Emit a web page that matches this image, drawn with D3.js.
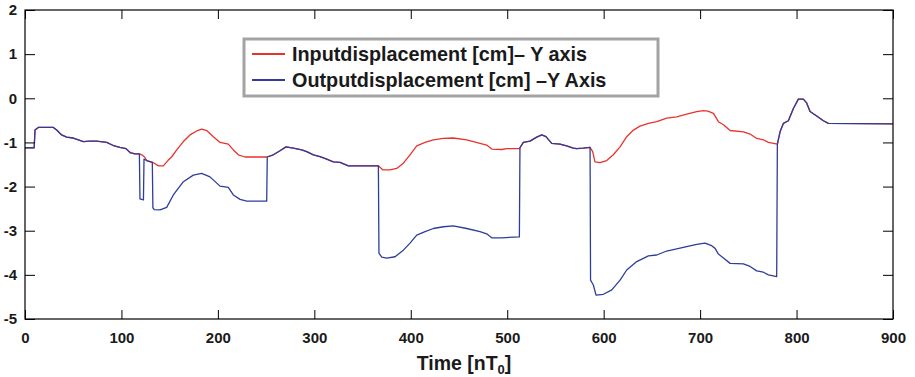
<!DOCTYPE html>
<html>
<head>
<meta charset="utf-8">
<script src="https://cdn.jsdelivr.net/npm/d3@7"></script>
<style>
  html, body { margin: 0; padding: 0; background: #fff; }
  svg { display: block; font-family: "Liberation Sans", Arial, sans-serif; }
</style>
</head>
<body>
<div id="outlet"></div>
<script>
// time samples [nT0] and displacement [cm]
const inputTime = [0, 9.5, 10.4, 13.8, 29.4, 32.8, 38, 43.2, 50, 55.3, 60.5, 67.4, 74.3, 84.7, 91.6, 98.5,
  104.7, 108.9, 114, 118.6, 121, 124, 126.2, 132.4, 138.3, 143.4, 148.6, 152, 157.3, 164.2, 171.1, 178,
  183.2, 188.4, 195.3, 202.2, 210.8, 216, 221.2, 228.1, 250.6, 257.5, 264.4, 270.7, 278.2, 286.9, 292.1,
  299, 305.9, 312.8, 319.7, 326.6, 335.3, 366.4, 370.9, 378.5, 385.4, 392.3, 399.2, 406.2, 414.8, 423.4,
  433.8, 444.1, 458, 471.8, 478.7, 483.9, 494.3, 499.5, 512.6, 516.7, 523.6, 530.6, 535.8, 540.2, 546.1,
  554.7, 561.6, 568.5, 572, 578.9, 585.9, 588.6, 591, 596.2, 603.1, 610, 617, 623.9, 630.8, 637.7, 646.4,
  655, 665.4, 675.8, 686.1, 696.5, 703.4, 708, 713.8, 719, 724.2, 731.1, 744.9, 751.8, 758.7, 765.6,
  770.8, 780.1, 782.9, 786.3, 791.5, 796.7, 801.9, 807.1, 810.6, 814, 820.9, 827.8, 833, 900];
const inputDisp = [-1.12, -1.12, -0.72, -0.66, -0.66, -0.72, -0.83, -0.88, -0.90, -0.94, -0.98, -0.97, -0.97, -1.00, -1.07, -1.11,
  -1.14, -1.23, -1.26, -1.26, -1.28, -1.33, -1.41, -1.45, -1.53, -1.53, -1.40, -1.33, -1.17, -0.98, -0.83, -0.74,
  -0.70, -0.73, -0.87, -1.00, -1.04, -1.17, -1.28, -1.33, -1.33, -1.28, -1.19, -1.10, -1.13, -1.17, -1.21,
  -1.28, -1.32, -1.38, -1.44, -1.45, -1.53, -1.53, -1.62, -1.62, -1.59, -1.47, -1.28, -1.08, -1.00, -0.94,
  -0.91, -0.90, -0.94, -1.02, -1.06, -1.15, -1.16, -1.14, -1.14, -1.00, -0.97, -0.88, -0.83, -0.87, -1.02,
  -1.04, -1.08, -1.13, -1.14, -1.13, -1.11, -1.21, -1.44, -1.46, -1.41, -1.28, -1.10, -0.87, -0.72, -0.63, -0.57,
  -0.53, -0.45, -0.42, -0.36, -0.30, -0.28, -0.29, -0.34, -0.53, -0.60, -0.73, -0.76, -0.81, -0.91, -0.94,
  -1.00, -1.04, -0.76, -0.57, -0.51, -0.23, -0.02, -0.02, -0.11, -0.30, -0.40, -0.51, -0.57, -0.58];

const outputTime = [0, 9.5, 10.4, 13.8, 29.4, 32.8, 38, 43.2, 50, 55.3, 60.5, 67.4, 74.3, 84.7, 91.6, 98.5,
  104.7, 108.9, 114, 118.6, 119.2, 122.8, 123.4, 126.2, 132, 132.6, 134, 140, 146.9, 153.8, 164.2, 174.5,
  183.2, 191.8, 202.2, 210.8, 216, 223, 229.9, 250.6, 251.2, 257.5, 264.4, 270.7, 278.2, 286.9, 292.1,
  299, 305.9, 312.8, 319.7, 326.6, 335.3, 366.4, 367, 369.9, 375, 383.7, 392.3, 399.2, 406.2, 414.8, 423.4,
  433.8, 444.1, 458, 471.8, 478.7, 483.9, 494.3, 512.6, 513.2, 516.7, 523.6, 530.6, 535.8, 540.2, 546.1,
  554.7, 561.6, 568.5, 572, 578.9, 585.9, 586.4, 589.3, 592.1, 599.7, 608.4, 617, 623.9, 634.3, 646.4,
  655, 665.4, 682.6, 696.5, 705.1, 712, 715.5, 719, 724.2, 731.1, 744.9, 751.8, 758.7, 765.6, 770.8,
  779.4, 780.1, 782.9, 786.3, 791.5, 796.7, 801.9, 807.1, 810.6, 814, 820.9, 827.8, 833, 900];
const outputDisp = [-1.12, -1.12, -0.72, -0.66, -0.66, -0.72, -0.83, -0.88, -0.90, -0.94, -0.98, -0.97, -0.97, -1.00, -1.07, -1.11,
  -1.14, -1.23, -1.26, -1.26, -2.28, -2.30, -1.38, -1.41, -1.45, -2.48, -2.52, -2.53, -2.47, -2.19, -1.89, -1.74,
  -1.70, -1.78, -1.99, -2.02, -2.19, -2.29, -2.33, -2.33, -1.33, -1.28, -1.19, -1.10, -1.13, -1.17, -1.21,
  -1.28, -1.32, -1.38, -1.44, -1.45, -1.53, -1.53, -3.51, -3.60, -3.62, -3.59, -3.44, -3.28, -3.10, -3.02, -2.95,
  -2.91, -2.89, -2.95, -3.02, -3.07, -3.16, -3.16, -3.14, -1.12, -1.00, -0.97, -0.88, -0.83, -0.87, -1.02,
  -1.04, -1.08, -1.13, -1.14, -1.13, -1.11, -4.12, -4.23, -4.46, -4.44, -4.34, -4.12, -3.89, -3.70, -3.57,
  -3.55, -3.46, -3.38, -3.31, -3.28, -3.34, -3.40, -3.53, -3.62, -3.74, -3.75, -3.81, -3.91, -3.94, -4.00,
  -4.04, -1.04, -0.76, -0.57, -0.51, -0.23, -0.02, -0.02, -0.11, -0.30, -0.40, -0.51, -0.57, -0.58];

const xTicks = [0, 100, 200, 300, 400, 500, 600, 700, 800, 900];
const yTicks = [-5, -4, -3, -2, -1, 0, 1, 2];
const seriesNames = ["Inputdisplacement [cm]\u2013 Y axis", "Outputdisplacement [cm] \u2013Y Axis"];
const seriesColors = ["#e8332c", "#2e3d9b"];

const width = 915, height = 377;
const marginLeft = 25, marginRight = 22, marginTop = 10, marginBottom = 58;

const x = d3.scaleLinear().domain([0, 900]).range([marginLeft, width - marginRight]);
const y = d3.scaleLinear().domain([-5, 2]).range([height - marginBottom, marginTop]);

const svg = d3.select("#outlet").append("svg")
  .attr("width", width)
  .attr("height", height)
  .attr("viewBox", [0, 0, width, height]);

// lines
const line = d3.line().x(d => x(d[0])).y(d => y(d[1]));
const series = [
  d3.zip(inputTime, inputDisp),
  d3.zip(outputTime, outputDisp)
];
svg.append("g")
  .attr("fill", "none")
  .attr("stroke-width", 1.3)
  .attr("stroke-linejoin", "round")
  .selectAll("path")
  .data(series)
  .join("path")
  .attr("stroke", (d, i) => seriesColors[i])
  .attr("d", line);

// axes, ticks pointing inward
const tickLabelStyle = g => g.selectAll("text")
  .attr("font-size", 15)
  .attr("font-weight", "bold")
  .attr("fill", "#1a1a1a")
  .attr("font-family", "'Liberation Sans', Arial, sans-serif");

svg.append("g")
  .attr("transform", `translate(0,${y(-5)})`)
  .call(d3.axisBottom(x).tickValues(xTicks).tickSizeInner(-9).tickSizeOuter(0).tickPadding(13).tickFormat(d => String(d)))
  .call(g => g.select(".domain").remove())
  .call(tickLabelStyle);

svg.append("g")
  .attr("transform", `translate(${x(0)},0)`)
  .call(d3.axisLeft(y).tickValues(yTicks).tickSizeInner(-10).tickSizeOuter(0).tickPadding(8).tickFormat(d => String(d)))
  .call(g => g.select(".domain").remove())
  .call(tickLabelStyle);

svg.append("g")
  .attr("transform", `translate(0,${y(2)})`)
  .call(d3.axisTop(x).tickValues(xTicks).tickSizeInner(-9).tickSizeOuter(0).tickFormat(""))
  .call(g => g.select(".domain").remove());

svg.append("g")
  .attr("transform", `translate(${x(900)},0)`)
  .call(d3.axisRight(y).tickValues(yTicks).tickSizeInner(-10).tickSizeOuter(0).tickFormat(""))
  .call(g => g.select(".domain").remove());

svg.append("rect")
  .attr("x", x(0))
  .attr("y", y(2))
  .attr("width", x(900) - x(0))
  .attr("height", y(-5) - y(2))
  .attr("fill", "none")
  .attr("stroke", "#000")
  .attr("stroke-width", 1.2);

// x label with subscript
const xLabel = svg.append("text")
  .attr("x", (x(0) + x(900)) / 2 + 5)
  .attr("y", 370)
  .attr("text-anchor", "middle")
  .attr("font-size", 19.5)
  .attr("font-weight", "bold")
  .attr("fill", "#1a1a1a");
xLabel.append("tspan").text("Time [nT");
xLabel.append("tspan").attr("font-size", 13).attr("dy", 4).text("0");
xLabel.append("tspan").attr("dy", -4).text("]");

// legend
const legend = svg.append("g");
legend.append("rect")
  .attr("x", 244)
  .attr("y", 39)
  .attr("width", 414)
  .attr("height", 57)
  .attr("fill", "#fff")
  .attr("stroke", "#a3a3a3")
  .attr("stroke-width", 3);

const legendRows = legend.selectAll("g.row")
  .data(seriesNames)
  .join("g")
  .attr("class", "row")
  .attr("transform", (d, i) => `translate(0,${54 + i * 26})`);

legendRows.append("line")
  .attr("x1", 252)
  .attr("x2", 285)
  .attr("stroke", (d, i) => seriesColors[i])
  .attr("stroke-width", 2);

legendRows.append("text")
  .attr("x", 292)
  .attr("y", 7)
  .attr("font-size", 19.8)
  .attr("font-weight", "bold")
  .attr("fill", "#1a1a1a")
  .text(d => d);
</script>
</body>
</html>
